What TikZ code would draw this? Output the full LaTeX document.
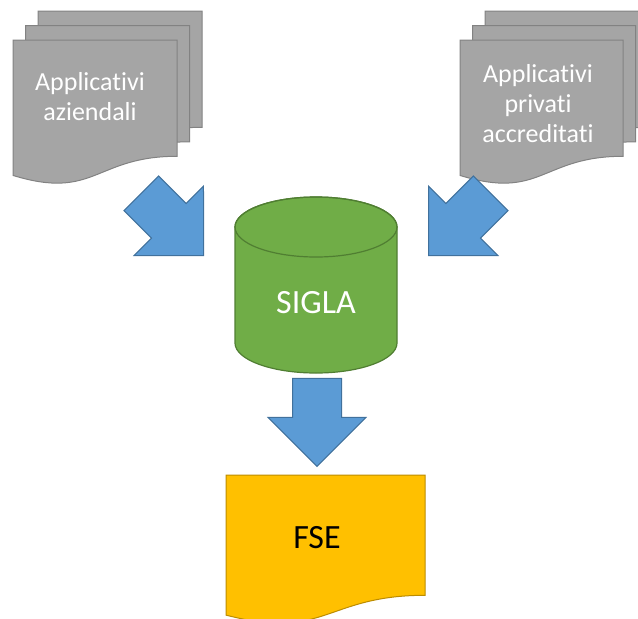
\documentclass[tikz,border=0pt]{standalone}
\usepackage{fontspec}
\setmainfont{Carlito}[Ligatures={NoCommon,NoRequired,NoContextual}]
\usetikzlibrary{shapes.arrows}

\definecolor{docgray}{HTML}{A5A5A5}
\definecolor{docline}{HTML}{828282}
\definecolor{dbgreen}{HTML}{70AD47}
\definecolor{dbline}{HTML}{507E32}
\definecolor{arrowblue}{HTML}{5B9BD5}
\definecolor{arrowline}{HTML}{41719C}
\definecolor{fsegold}{HTML}{FFC000}
\definecolor{fseline}{HTML}{BC8C00}

% one sheet with a wavy bottom: #1 = top left corner, #2 = width, #3 = height
\newcommand{\docsheet}[3]{%
  (#1) -- ++(#2,0) -- ++(0,0.802*#3)
  .. controls ++(-0.5*#2,0) and ++(0.5*#2,0.1735*#3) .. ++(-#2,0.132*#3) -- cycle}

\tikzset{
  sheet/.style={fill=docgray,draw=docline,line width=1pt},
  doctext/.style={text=white,font=\fontsize{26}{30}\selectfont,align=center},
  blockarrow/.style={single arrow,draw=arrowline,fill=arrowblue,line width=1pt,
    inner xsep=0pt,inner ysep=24pt,single arrow head extend=24.5pt,
    single arrow tip angle=90,minimum height=88pt,anchor=tip}
}

\begin{document}
\begin{tikzpicture}[x=1pt,y=-1pt]

\useasboundingbox (0,0) rectangle (638,619);
\clip (0,0) rectangle (638,619);

% Define the sheet offset in the stacks
\def\dx{12.5}
\def\dy{-14.5}

% Draw the two stacks of sheets, back one first
\foreach \k in {2,1,0} {
    \draw[sheet] \docsheet{13+\dx*\k,40+\dy*\k}{164}{145};
    \draw[sheet] \docsheet{460+\dx*\k,40+\dy*\k}{163}{145};
}
\node[doctext] (appaz) at (90,97) {Applicat\kern0ptivi\\aziendali};
\node[doctext] (appacc) at (538,104) {Applicat\kern0ptivi\\privati\\accreditati};

% Draw the database
\filldraw[fill=dbgreen,draw=dbline,line width=1.2pt] (235,227) -- (235,343)
  arc[start angle=180,end angle=0,x radius=81,y radius=30] -- (397,227)
  arc[start angle=0,end angle=-180,x radius=81,y radius=30] -- cycle;
\draw[dbline,line width=1.2pt] (316,227) ellipse[x radius=81,y radius=30];
\node[text=white,font=\fontsize{34}{40}\selectfont] (sigla) at (316,303) {SIGLA};

% Draw the FSE sheet
\draw[fill=fsegold,draw=fseline,line width=1pt] \docsheet{226,475}{199}{150};
\node[font=\fontsize{34}{40}\selectfont] (fse) at (317,538) {FSE};

% Draw the block arrows
\node[blockarrow,rotate=-45] (arrL) at (204,256) {};
\node[blockarrow,rotate=-135] (arrR) at (428,256) {};
\node[blockarrow,rotate=-90] (arrD) at (317,467) {};

\end{tikzpicture}
\end{document}
